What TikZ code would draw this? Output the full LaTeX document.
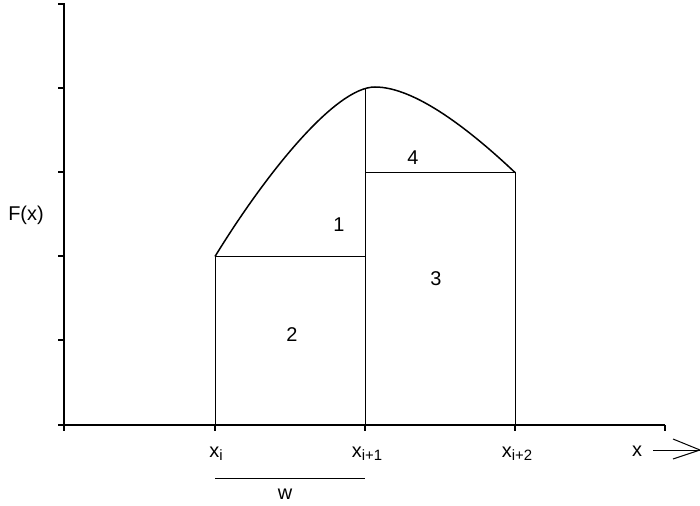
\documentclass[tikz,border=0pt]{standalone}
\usepackage{fontspec}
\setmainfont{Liberation Sans}
\newcommand{\mysub}[1]{\raisebox{-0.35ex}{\fontsize{15}{15}\selectfont #1}}
\begin{document}
\begin{tikzpicture}[x=1bp,y=-1bp,
  axis/.style={line width=1.4bp},
  thin/.style={line width=1bp},
  curve/.style={line width=1.5bp},
  lab/.style={font=\fontsize{20}{20}\selectfont, inner sep=0pt}]
\useasboundingbox (0,0) rectangle (700,506);
% axes
\coordinate (o) at (64,425);
\coordinate (ytop) at (64,4);
\coordinate (xend) at (665,425);
\draw[axis] (58,4) -- (ytop) -- (o) -- (xend);
\draw[axis] (58,425) -- (o) -- (64,431);
\foreach \yy in {88,172,256,340} \draw[axis] (58,\yy) -- (64,\yy);
\foreach \xx in {215,365,515,665} \draw[axis] (\xx,425) -- (\xx,431);
% points
\coordinate (a0) at (215,425);
\coordinate (a1) at (215,256.5);
\coordinate (b0) at (365,425);
\coordinate (b1) at (365,256.5);
\coordinate (b2) at (365,172.5);
\coordinate (b3) at (365,88);
\coordinate (c0) at (515,425);
\coordinate (c1) at (515,172.5);
\coordinate (pk) at (375,87);
\draw[thin] (a0) -- (a1) -- (b1);
\draw[thin] (b0) -- (b3);
\draw[thin] (b2) -- (c1) -- (c0);
\draw[curve] (a1) .. controls (265,175) and (335,87) .. (pk)
  .. controls (415,87) and (470,130) .. (c1);
% labels
\node[lab] (n1) at (339,225) {1};
\node[lab] (n2) at (292,335) {2};
\node[lab] (n3) at (436,279) {3};
\node[lab] (n4) at (413,158) {4};
\node[lab] (fx) at (26,215) {F(x)};
\node[lab, anchor=base] (xi) at (216,457) {x\mysub{i}};
\node[lab, anchor=base] (xi1) at (367,457) {x\mysub{i+1}};
\node[lab, anchor=base] (xi2) at (517,457) {x\mysub{i+2}};
\node[lab] (xl) at (637,451) {x};
\coordinate (ar0) at (653,450);
\coordinate (ar1) at (700,450);
\draw[thin] (ar0) -- (ar1);
\draw[thin] (673,439) -- (ar1) -- (673,459);
\coordinate (w0) at (215,478);
\coordinate (w1) at (365,478);
\draw[thin] (w0) -- (w1);
\node[lab] (wl) at (285,494) {w};
\end{tikzpicture}
\end{document}
